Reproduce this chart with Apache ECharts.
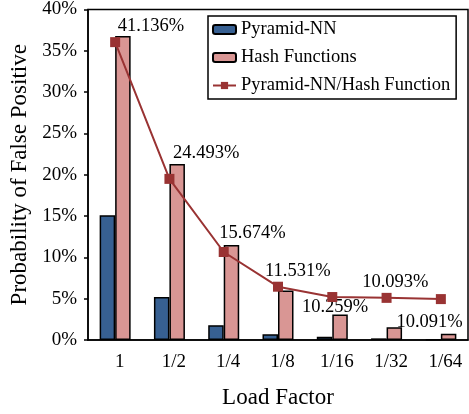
<!DOCTYPE html>
<html>
<head>
<meta charset="utf-8">
<script src="https://cdn.jsdelivr.net/npm/echarts@6/dist/echarts.min.js"></script>
<style>
html,body{margin:0;padding:0;background:#fff;}
#chart{width:469px;height:414px;}
</style>
</head>
<body>
<div id="chart"></div>
<script>
var categories = ['1', '1/2', '1/4', '1/8', '1/16', '1/32', '1/64'];
var pyramidNN = [15.1, 5.2, 1.8, 0.7, 0.4, 0.2, 0.08];
var hashFunctions = [36.8, 21.3, 11.5, 6.0, 3.1, 1.55, 0.75];
var ratio = [36.05, 19.5, 10.65, 6.45, 5.2, 5.1, 4.95];
var ratioLabels = ['41.136%', '24.493%', '15.674%', '11.531%', '10.259%', '10.093%', '10.091%'];
var yTicks = [0, 5, 10, 15, 20, 25, 30, 35, 40];

var labelOffsets = [[28, 5], [29, 4], [21, 3], [12, -5], [-5, 7], [1, -31], [-19, 3]];
var FONT = 'Liberation Serif';

var hashData = hashFunctions.map(function (v, i) {
  return {
    value: v,
    label: { show: true, position: 'top', offset: labelOffsets[i], formatter: ratioLabels[i] }
  };
});

var chart = echarts.init(document.getElementById('chart'));
chart.setOption({
  animation: false,
  textStyle: { fontFamily: FONT },
  grid: { left: 87, right: 1, top: 6, bottom: 74, show: true, borderColor: '#000', borderWidth: 1.5, containLabel: false },
  legend: {
    left: 208, top: 16,
    orient: 'vertical',
    backgroundColor: '#fff',
    borderColor: '#000', borderWidth: 1.5,
    padding: [4, 6, 4, 4],
    itemWidth: 23, itemHeight: 9, itemGap: 9, itemTextGap: 3,
    textStyle: { fontFamily: FONT, fontSize: 18.5, color: '#000' },
    data: ['Pyramid-NN', 'Hash Functions', 'Pyramid-NN/Hash Function']
  },
  xAxis: {
    type: 'category',
    data: categories,
    boundaryGap: true,
    name: 'Load Factor',
    nameLocation: 'middle',
    nameGap: 46,
    nameTextStyle: { fontFamily: FONT, fontSize: 23, color: '#000' },
    axisLine: { lineStyle: { color: '#000', width: 1.5 } },
    axisTick: { show: false },
    axisLabel: { fontFamily: FONT, fontSize: 19, color: '#000', margin: 13, padding: [0, 0, 0, 9] }
  },
  yAxis: {
    type: 'value',
    min: yTicks[0], max: yTicks[yTicks.length - 1], interval: 5,
    name: 'Probability of False Positive',
    nameLocation: 'middle',
    nameGap: 57,
    nameTextStyle: { fontFamily: FONT, fontSize: 23, color: '#000' },
    axisLine: { show: true, lineStyle: { color: '#000', width: 1.5 } },
    axisTick: { show: true, length: 4, lineStyle: { color: '#000', width: 1.5 } },
    splitLine: { show: false },
    axisLabel: { fontFamily: FONT, fontSize: 19, color: '#000', margin: 11, formatter: '{value}%' }
  },
  series: [
    {
      name: 'Pyramid-NN', type: 'bar', data: pyramidNN,
      barWidth: 15.5, barGap: '0%',
      itemStyle: { color: '#376092', borderColor: '#000', borderWidth: 1.5 }
    },
    {
      name: 'Hash Functions', type: 'bar', data: hashData,
      barWidth: 15.5, barGap: '0%',
      itemStyle: { color: '#D99694', borderColor: '#000', borderWidth: 1.5 },
      label: { fontFamily: FONT, fontSize: 18.5, color: '#000', distance: 5 }
    },
    {
      name: 'Pyramid-NN/Hash Function', type: 'line', data: ratio,
      symbol: 'rect', symbolSize: 10,
      lineStyle: { color: '#993333', width: 2 },
      itemStyle: { color: '#993333' },
      z: 5
    }
  ]
});
</script>
</body>
</html>
